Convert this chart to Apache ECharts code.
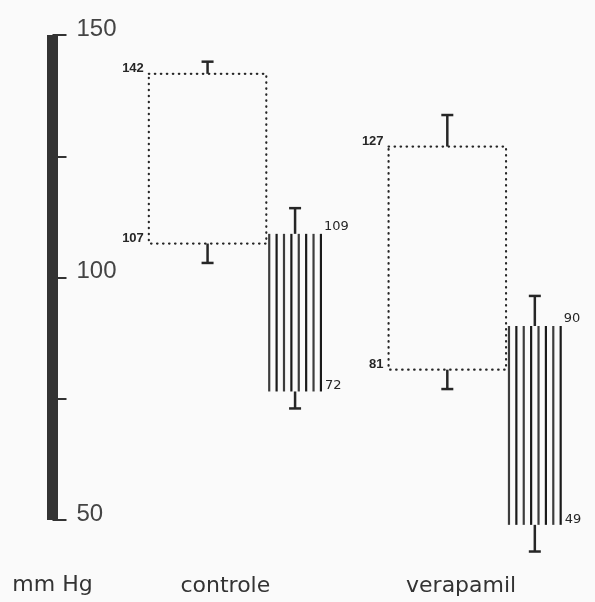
<!DOCTYPE html>
<html>
<head>
<meta charset="utf-8">
<script src="https://cdn.jsdelivr.net/npm/echarts@6/dist/echarts.min.js"></script>
<style>
html,body{margin:0;padding:0;background:#fafafa;}
#chart{width:595px;height:602px;}
</style>
</head>
<body>
<div id="chart"></div>
<script>
// ---- data ----
const categories = ['controle', 'verapamil'];
const yTickLabels = [50, 100, 150];
// dotted boxes (rest)
const dottedHigh = [142, 127];
const dottedLow = [107, 81];
const dottedErrHigh = [144.5, 133.5];
const dottedErrLow = [103, 77];
const dottedHighText = ['142', '127'];
const dottedLowText = ['107', '81'];
// striped boxes
const stripedHigh = [109, 90];
const stripedLow = [76.5, 49];
const stripedErrHigh = [114.3, 96.2];
const stripedErrLow = [73, 43.5];
const stripedHighText = ['109', '90'];
const stripedLowText = ['72', '49'];

const INK = '#262626';

function errBar(x, yEdge, yEnd, w) {
  return [
    {type: 'line', shape: {x1: x, y1: yEdge, x2: x, y2: yEnd}, style: {stroke: INK, lineWidth: 2.5}},
    {type: 'line', shape: {x1: x - w / 2, y1: yEnd, x2: x + w / 2, y2: yEnd}, style: {stroke: INK, lineWidth: 2.5}}
  ];
}

function makeRender(kind) {
  return function (params, api) {
    const i = api.value(0);
    const bw = api.size([1, 0])[0];
    const pHigh = api.coord([i, api.value(2)]);
    const pLow = api.coord([i, api.value(1)]);
    const pEH = api.coord([i, api.value(4)]);
    const pEL = api.coord([i, api.value(3)]);
    const cx = pHigh[0];
    const yH = pHigh[1], yL = pLow[1];
    const children = [];
    let x0, x1;
    const t = params.dataIndex;
    if (kind === 'dotted') {
      x0 = cx - 0.361 * bw; x1 = cx + 0.129 * bw;
      children.push({
        type: 'rect', shape: {x: x0, y: yH, width: x1 - x0, height: yL - yH},
        style: {fill: 'none', stroke: INK, lineWidth: 2.2, lineDash: [0.5, 5.5], lineCap: 'round'}
      });
      const xm = (x0 + x1) / 2;
      children.push(...errBar(xm, yH, pEH[1], 12));
      children.push(...errBar(xm, yL, pEL[1], 12));
      children.push({type: 'text', style: {text: dottedHighText[t], x: x0 - 5, y: yH + 1, align: 'right', verticalAlign: 'bottom',
        fill: INK, fontSize: 13, fontWeight: 'bold', fontFamily: 'Liberation Sans'}});
      children.push({type: 'text', style: {text: dottedLowText[t], x: x0 - 5, y: yL + 1, align: 'right', verticalAlign: 'bottom',
        fill: INK, fontSize: 13, fontWeight: 'bold', fontFamily: 'Liberation Sans'}});
    } else {
      x0 = cx + 0.137 * bw; x1 = cx + 0.361 * bw;
      const n = 8;
      for (let k = 0; k < n; k++) {
        const x = x0 + 1 + k * (x1 - x0 - 2) / (n - 1);
        children.push({type: 'line', shape: {x1: x, y1: yH, x2: x, y2: yL},
          style: {stroke: k % 2 ? '#1a1a1a' : '#3c3c3c', lineWidth: 2.2}});
      }
      const xm = (x0 + x1) / 2;
      children.push(...errBar(xm, yH, pEH[1], 12));
      children.push(...errBar(xm, yL, pEL[1], 12));
      children.push({type: 'text', style: {text: stripedHighText[t], x: x1 + 2, y: yH - 1, align: 'left', verticalAlign: 'bottom',
        fill: INK, fontSize: 13, fontFamily: 'DejaVu Sans'}});
      children.push({type: 'text', style: {text: stripedLowText[t], x: x1 + 3, y: yL + 1, align: 'left', verticalAlign: 'bottom',
        fill: INK, fontSize: 13, fontFamily: 'DejaVu Sans'}});
    }
    return {type: 'group', children: children};
  };
}

const dottedData = categories.map((c, i) => [i, dottedLow[i], dottedHigh[i], dottedErrLow[i], dottedErrHigh[i]]);
const stripedData = categories.map((c, i) => [i, stripedLow[i], stripedHigh[i], stripedErrLow[i], stripedErrHigh[i]]);

const chart = echarts.init(document.getElementById('chart'), null, {renderer: 'canvas'});
chart.setOption({
  backgroundColor: '#fafafa',
  animation: false,
  grid: {left: 115.5, top: 35, width: 482, height: 485, containLabel: false},
  xAxis: {
    type: 'category', data: categories,
    axisLine: {show: false}, axisTick: {show: false}, splitLine: {show: false},
    axisLabel: {
      margin: 55,
      formatter: function (v) { return v === categories[0] ? '{a|' + v + '}' : '{b|' + v + '}'; },
      rich: {
        a: {fontFamily: 'DejaVu Sans', fontSize: 22, color: '#333', padding: [0, 20, 0, 0]},
        b: {fontFamily: 'DejaVu Sans', fontSize: 22, color: '#333', padding: [0, 28, 0, 0]}
      }
    }
  },
  yAxis: {
    type: 'value', min: 50, max: 150, interval: 25, offset: 63,
    name: 'mm Hg', nameLocation: 'start', nameGap: 54,
    nameTextStyle: {fontFamily: 'DejaVu Sans', fontSize: 22, color: '#333', align: 'center', verticalAlign: 'top'},
    axisLine: {show: true, lineStyle: {color: '#333', width: 11, cap: 'butt'}},
    axisTick: {show: true, inside: true, length: 14, lineStyle: {color: '#333', width: 2}},
    splitLine: {show: false},
    axisLabel: {
      inside: true, margin: 24,
      formatter: function (v) { return yTickLabels.indexOf(v) >= 0 ? String(v) : ''; },
      fontFamily: 'Liberation Sans', fontSize: 24, color: '#444',
      verticalAlign: 'bottom', lineHeight: 12
    }
  },
  series: [
    {type: 'custom', name: 'dotted', renderItem: makeRender('dotted'), data: dottedData, encode: {x: 0, y: [1, 2]}, clip: false},
    {type: 'custom', name: 'striped', renderItem: makeRender('striped'), data: stripedData, encode: {x: 0, y: [1, 2]}, clip: false}
  ]
});
</script>
</body>
</html>
